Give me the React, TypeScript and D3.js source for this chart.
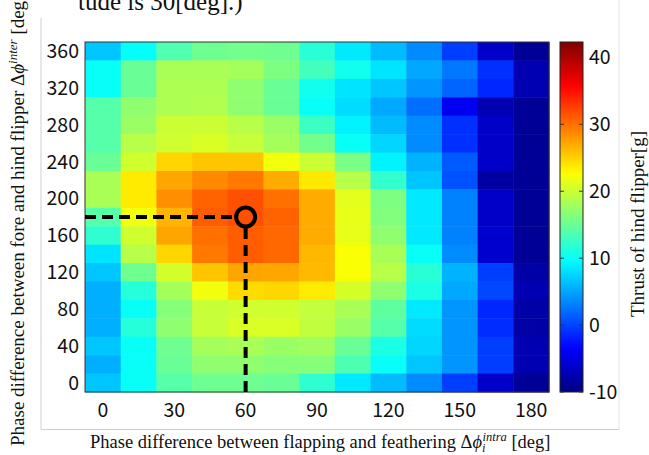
import React from "react";
import * as d3 from "d3";

// Column categories (Δφ_intra, deg) and row categories (Δφ_inter, deg, top → bottom)
const intraValues = [0, 15, 30, 45, 60, 75, 90, 105, 120, 135, 150, 165, 180];
const interValues = [360, 340, 320, 300, 280, 260, 240, 220, 200, 180, 160, 140, 120, 100, 80, 60, 40, 20, 0];

// Thrust of hind flipper [g], one row per Δφ_inter (top → bottom)
const thrust: number[][] = [
  [6.7, 9.8, 13.7, 15.3, 15.5, 15.3, 11.7, 8.5, 6.2, 3.7, -0.3, -6.3, -8.8],
  [10, 15, 18.3, 18.3, 18, 16, 13, 10.5, 8.3, 5.2, 2.7, -1, -7.4],
  [10, 15, 18.5, 18.5, 17, 15, 10.5, 8.3, 6.7, 4.2, 1.7, -1.5, -7.4],
  [14, 17, 18.5, 18.7, 17, 15, 10, 7.8, 5.2, 2.2, -4.2, -7.4, -8.8],
  [14, 17.5, 20, 20, 19, 17.5, 12.7, 9, 6.2, 3.7, -1, -6.3, -8.8],
  [14, 19, 20.3, 20.8, 19.8, 18, 15.5, 10, 7.5, 3.7, -1, -6.3, -8.8],
  [15, 20.3, 24.8, 25.6, 25.6, 22, 20, 15.8, 9, 5.7, 1.2, -6.3, -8.8],
  [18.3, 23.7, 27.2, 28.7, 29.6, 27, 23.8, 19, 12.2, 6.7, 0.7, -8.3, -8.8],
  [18.3, 23.7, 28.5, 30.7, 31.7, 30, 27, 21.3, 16, 8.5, 3.2, -6.3, -8.8],
  [14, 22, 26.5, 31, 31.7, 30.7, 27, 21.5, 16.3, 8.5, 3.2, -6.3, -8.8],
  [12, 20.3, 27.3, 30, 31, 30.5, 27, 21.5, 17, 8.5, 3.2, -6, -8.8],
  [8.3, 19, 24.8, 29.6, 31, 30.5, 26.4, 22.5, 18.3, 10, 3.7, -6, -8.8],
  [6.7, 15.3, 20.5, 25.6, 27.3, 27.2, 26.2, 22.5, 19, 11.7, 5.7, -0.3, -8],
  [5.5, 11.5, 18, 22, 24.5, 24.8, 23.7, 20.6, 17, 11, 5.2, 0.2, -7.4],
  [5.5, 10, 16.5, 19.8, 20.3, 20.3, 19.6, 18.3, 14.5, 8.5, 4.2, -1.5, -8],
  [5.5, 11.5, 17, 19.8, 20.8, 20.8, 19.5, 17.5, 14, 7.8, 4.2, -1.2, -8],
  [6.7, 10, 15.3, 18, 18.3, 17.5, 17.8, 15, 11, 7.5, 4.2, -0.3, -7.4],
  [5.5, 10, 15, 17, 17, 16.5, 16.5, 13.5, 10, 6.7, 4.2, -0.3, -7.4],
  [6.7, 10, 14, 15.3, 15.3, 15, 12, 8.5, 6.2, 3.7, -0.3, -6.3, -8.8],
];

const xTicks = [0, 30, 60, 90, 120, 150, 180];
const yTicks = [0, 40, 80, 120, 160, 200, 240, 280, 320, 360];
const cbTicks = [-10, 0, 10, 20, 30, 40];
const cbDomain = [-10, 42.3];
const optimum = { intra: 60, inter: 180 };

const W = 649;
const H = 455;
const plot = { left: 85, right: 549, top: 42, bottom: 392 };
const cb = { left: 560, right: 583 };

function jet(t: number): string {
  const c = (v: number) => Math.max(0, Math.min(1, v));
  const r = c(1.5 - Math.abs(4 * t - 3));
  const g = c(1.5 - Math.abs(4 * t - 2));
  const b = c(1.5 - Math.abs(4 * t - 1));
  return d3.rgb(r * 255, g * 255, b * 255).formatHex();
}

export default function App() {
  const x = d3.scaleLinear().domain([-7.5, 187.5]).range([plot.left, plot.right]);
  const y = d3.scaleLinear().domain([-10, 370]).range([plot.bottom, plot.top]);
  const norm = d3.scaleLinear().domain(cbDomain).range([0, 1]).clamp(true);
  const cbY = d3.scaleLinear().domain(cbDomain).range([plot.bottom, plot.top]);

  const cells: JSX.Element[] = [];
  interValues.forEach((iv, ri) => {
    intraValues.forEach((xv, ci) => {
      const x0 = x(xv - 7.5);
      const x1 = x(xv + 7.5);
      const y0 = y(iv + 10);
      const y1 = y(iv - 10);
      cells.push(
        <rect
          key={`${ri}-${ci}`}
          x={x0}
          y={y0}
          width={x1 - x0 + 0.5}
          height={y1 - y0 + 0.5}
          fill={jet(norm(thrust[ri][ci]))}
        />
      );
    });
  });

  const stops = d3.range(0, 1.0001, 0.02);
  const tickFont = "'Noto Sans CJK JP', 'Noto Sans', sans-serif";
  const serif = "'Liberation Serif', 'DejaVu Serif', serif";

  const cx = x(optimum.intra);
  const cy = y(optimum.inter);

  return (
    <svg
      width={W}
      height={H}
      style={{ position: "absolute", left: 0, top: 0, background: "#fff" }}
    >
      <defs>
        <linearGradient id="jetgrad" x1="0" y1="1" x2="0" y2="0">
          {stops.map((s) => (
            <stop key={s} offset={`${s * 100}%`} stopColor={jet(s)} />
          ))}
        </linearGradient>
      </defs>

      {/* figure frame */}
      <line x1={41} y1={18} x2={41} y2={429.5} stroke="#cfcfcf" />
      <line x1={41} y1={429.5} x2={619} y2={429.5} stroke="#cfcfcf" />
      <line x1={619} y1={0} x2={619} y2={429.5} stroke="#e4e4e4" />

      {/* cropped caption line */}
      <text x={78} y={10} fontFamily={serif} fontSize={25} fill="#111">
        tude is 30[deg].)
      </text>

      {/* heatmap */}
      <g>{cells}</g>
      <rect
        x={plot.left}
        y={plot.top}
        width={plot.right - plot.left}
        height={plot.bottom - plot.top}
        fill="none"
        stroke="#333"
        strokeWidth={1}
      />

      {/* optimum marker */}
      <line x1={plot.left} y1={cy} x2={cx - 11} y2={cy} stroke="#000" strokeWidth={4} strokeDasharray="11,6" />
      <line x1={cx} y1={cy + 11} x2={cx} y2={plot.bottom} stroke="#000" strokeWidth={4} strokeDasharray="11,6" />
      <circle cx={cx} cy={cy} r={9.5} fill="none" stroke="#000" strokeWidth={4} />

      {/* x tick labels */}
      {xTicks.map((t) => (
        <text key={t} x={x(t)} y={417} textAnchor="middle" fontFamily={tickFont} fontSize={19.5} fill="#111">
          {t}
        </text>
      ))}
      {/* y tick labels */}
      {yTicks.map((t) => (
        <text key={t} x={79} y={y(t)} dy="0.35em" textAnchor="end" fontFamily={tickFont} fontSize={19.5} fill="#111">
          {t}
        </text>
      ))}

      {/* colorbar */}
      <rect x={cb.left} y={plot.top} width={cb.right - cb.left} height={plot.bottom - plot.top} fill="url(#jetgrad)" stroke="#222" strokeWidth={1} />
      {cbTicks.map((t) => (
        <g key={t}>
          <line x1={cb.left} x2={cb.left + 4} y1={cbY(t)} y2={cbY(t)} stroke="#333" />
          <line x1={cb.right - 4} x2={cb.right} y1={cbY(t)} y2={cbY(t)} stroke="#333" />
          <text x={589} y={cbY(t)} dy="0.35em" fontFamily={tickFont} fontSize={19.5} fill="#111">
            {t}
          </text>
        </g>
      ))}
      <text
        transform={`translate(644,224) rotate(-90)`}
        textAnchor="middle"
        fontFamily={serif}
        fontSize={18}
        textLength={186}
        lengthAdjust="spacingAndGlyphs"
        fill="#111"
      >
        Thrust of hind flipper[g]
      </text>

      {/* y axis title */}
      <text
        transform={`translate(24,446) rotate(-90)`}
        textAnchor="start"
        fontFamily={serif}
        fontSize={19}
        fill="#111"
      >
        Phase difference between fore and hind flipper Δ
        <tspan fontStyle="italic">ϕ</tspan>
        <tspan fontStyle="italic" fontSize={13} dy={-7}>inter</tspan>
        <tspan dy={7}> [deg]</tspan>
      </text>

      {/* x axis title */}
      <text x={90} y={448} fontFamily={serif} fontSize={18.5} fill="#111">
        Phase difference between flapping and feathering Δ
        <tspan fontStyle="italic">ϕ</tspan>
        <tspan fontStyle="italic" fontSize={12.5} dy={4}>i</tspan>
        <tspan fontStyle="italic" fontSize={12.5} dx={-3} dy={-11}>intra</tspan>
        <tspan dy={7}> [deg]</tspan>
      </text>
    </svg>
  );
}
